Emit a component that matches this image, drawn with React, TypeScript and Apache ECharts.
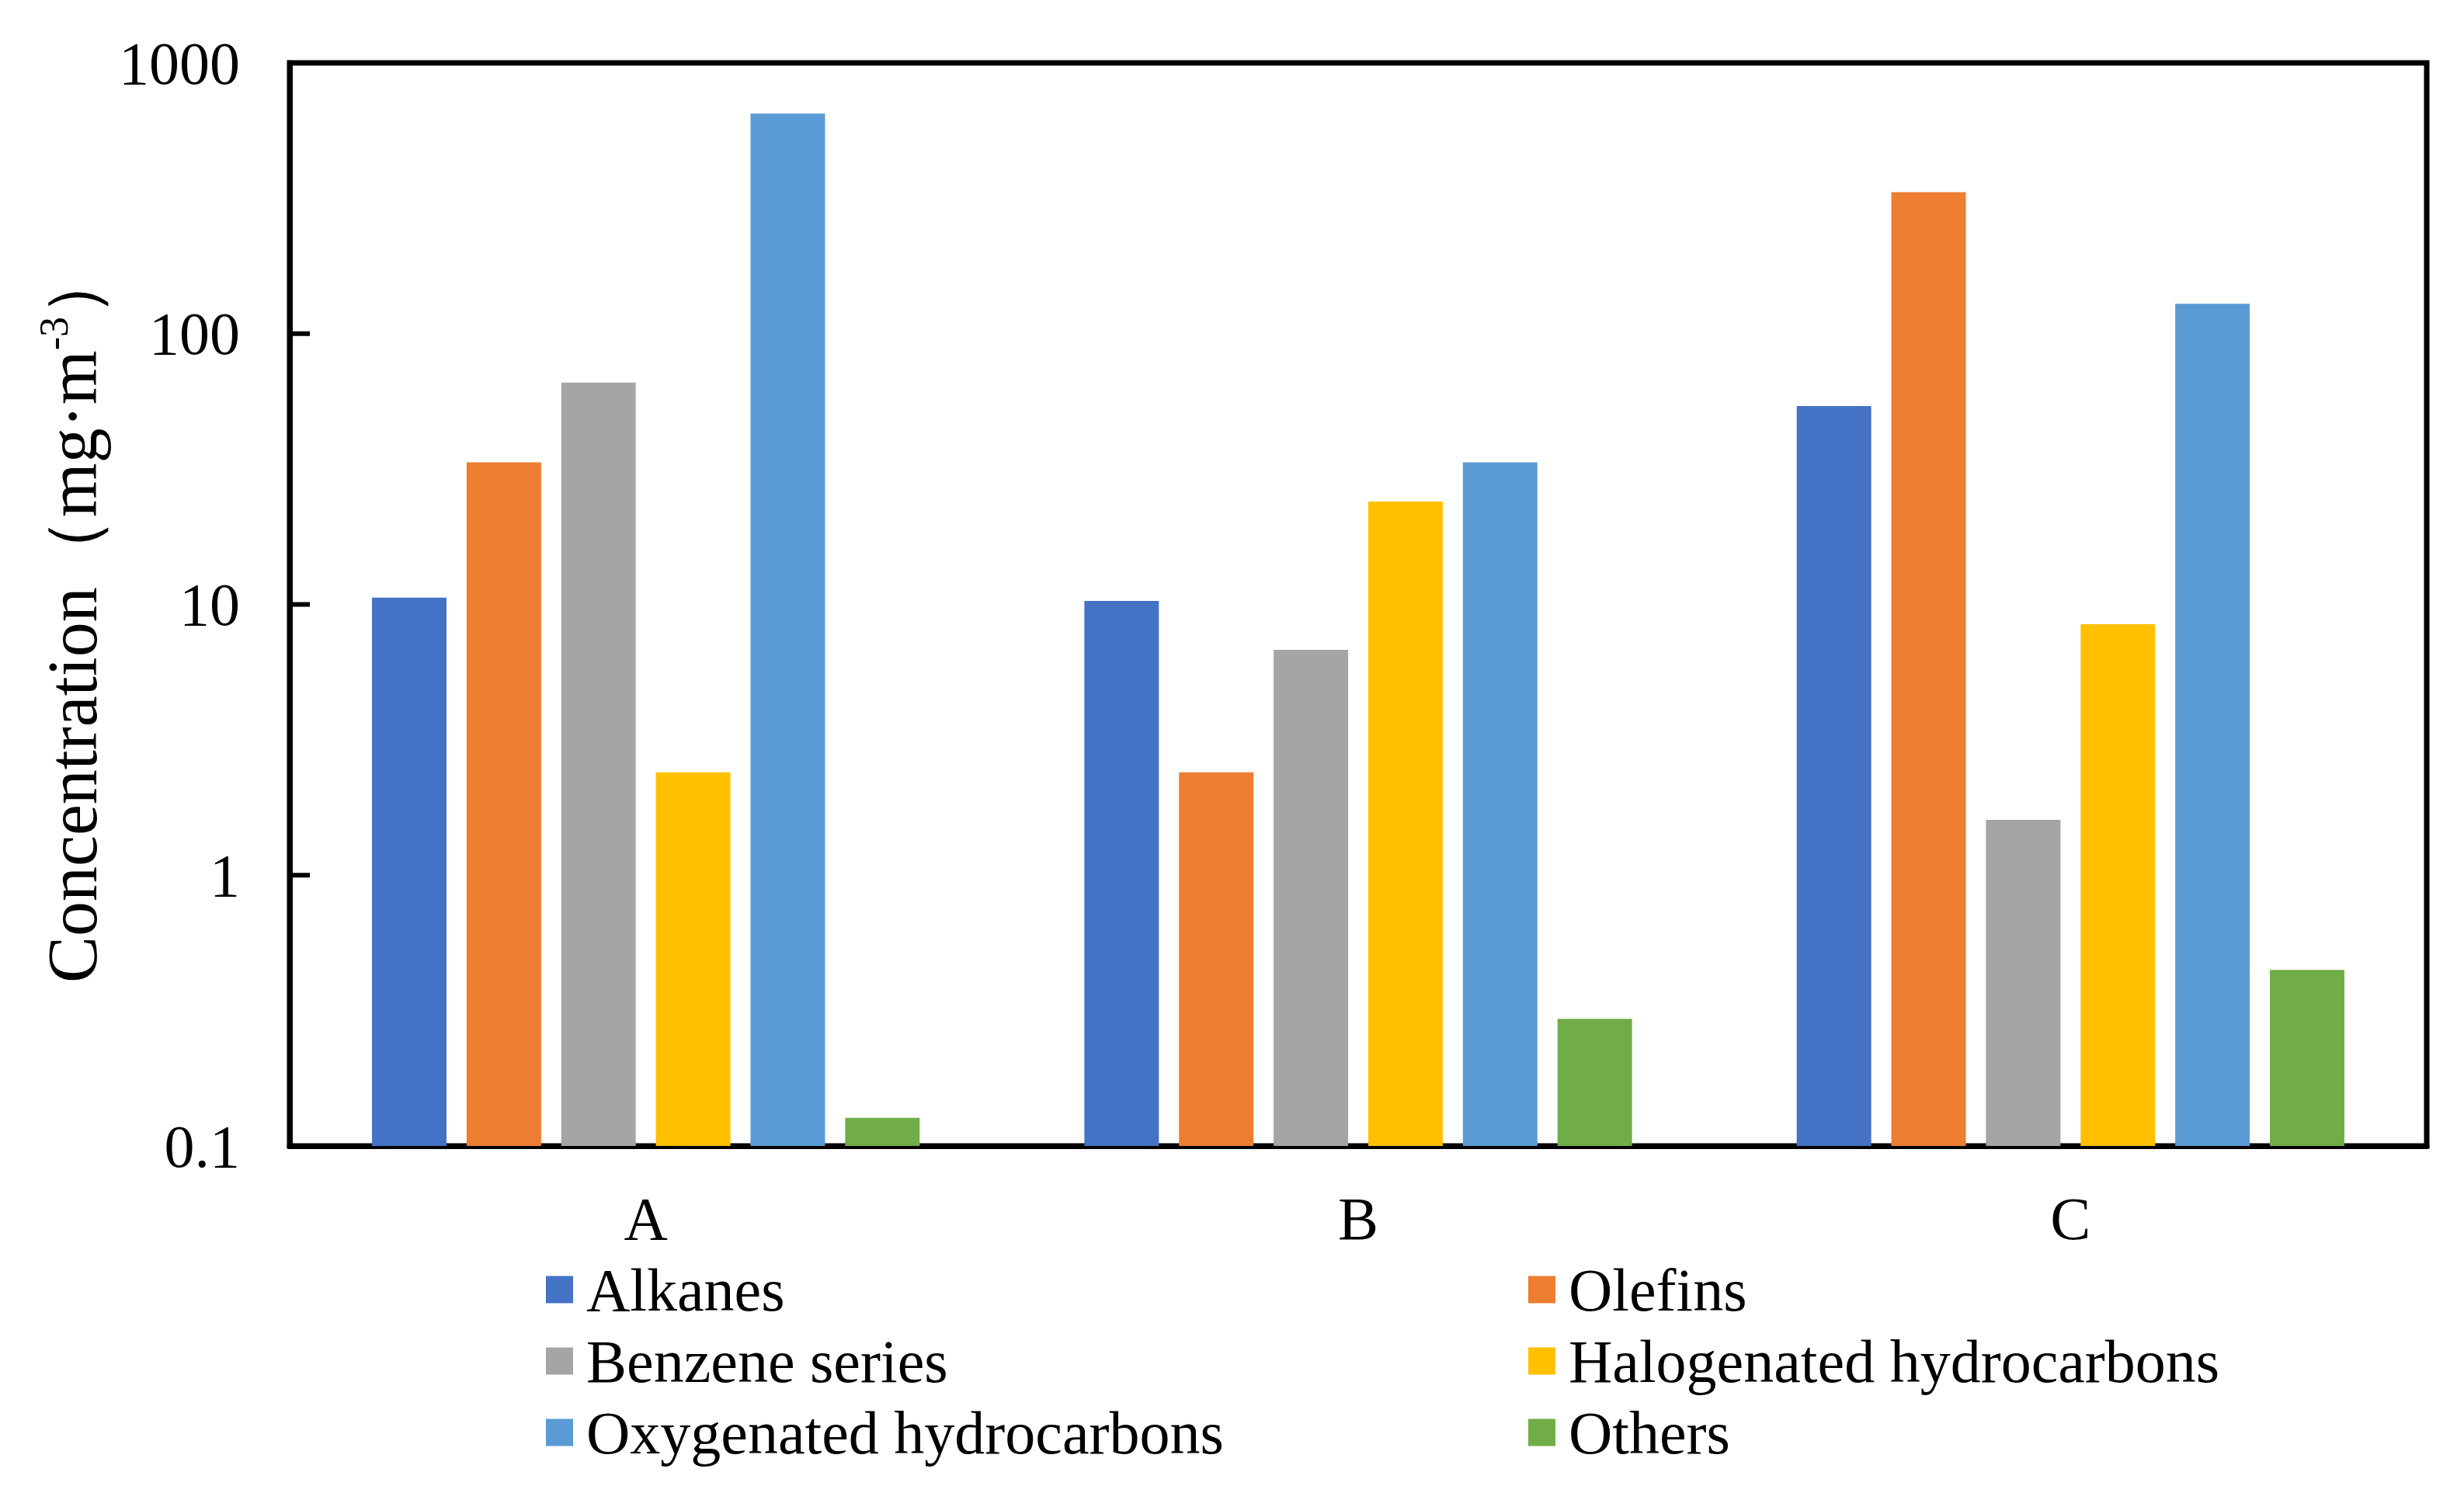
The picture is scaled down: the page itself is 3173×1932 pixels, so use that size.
import React, { useEffect, useRef } from "react";
import * as echarts from "echarts";

const categories = ["A", "B", "C"];
const seriesNames = [
  "Alkanes",
  "Olefins",
  "Benzene series",
  "Halogenated hydrocarbons",
  "Oxygenated hydrocarbons",
  "Others",
];
const alkanes = [10.6, 10.3, 54];
const olefins = [33.5, 2.4, 333];
const benzene = [66, 6.8, 1.6];
const halogenated = [2.4, 24, 8.45];
const oxygenated = [650, 33.5, 129];
const others = [0.127, 0.295, 0.447];
const seriesValues = [alkanes, olefins, benzene, halogenated, oxygenated, others];
const colors = ["#4472C4", "#ED7D31", "#A5A5A5", "#FFC000", "#5B9BD5", "#70AD47"];
const yTickValues = [0.1, 1, 10, 100, 1000];
const yTickLabels = ["0.1", "1", "10", "100", "1000"];
const AXIS_MIN = 0.1;
const AXIS_MAX = 1000;

const FONT = '"Liberation Serif", "Times New Roman", serif';

export default function App() {
  const ref = useRef<HTMLDivElement>(null);
  useEffect(() => {
    if (!ref.current) return;
    const chart = echarts.init(ref.current, undefined, { renderer: "svg" });
    const legendText = {
      fontFamily: FONT,
      fontSize: 78,
      color: "#000",
      lineHeight: 80,
      padding: [0, 0, 0, 12],
    };
    const series: any[] = [];
    seriesNames.forEach((name, i) => {
      // invisible base so each bar rises from the axis minimum on the log axis
      series.push({
        name: "_base" + i,
        type: "bar",
        stack: "s" + i,
        data: categories.map(() => AXIS_MIN),
        barWidth: "10.46%",
        barGap: "27%",
        itemStyle: { color: "rgba(0,0,0,0)" },
        silent: true,
      });
      series.push({
        name,
        type: "bar",
        stack: "s" + i,
        data: seriesValues[i].map((v) => v - AXIS_MIN),
        barWidth: "10.46%",
        barGap: "27%",
        itemStyle: { color: colors[i] },
      });
    });
    // inward decade ticks on the y axis, placed through the log scale
    series.push({
      name: "_ticks",
      type: "custom",
      silent: true,
      z: 5,
      data: yTickValues.map((v) => [0, v]),
      renderItem: (params: any, api: any) => {
        const y = api.coord([0, api.value(1)])[1];
        const x = params.coordSys.x;
        return {
          type: "line",
          shape: { x1: x, y1: y, x2: x + 26, y2: y },
          style: { stroke: "#000", lineWidth: 6 },
        };
      },
    });
    chart.setOption({
      animation: false,
      backgroundColor: "#fff",
      grid: {
        left: 373,
        right: 48,
        top: 81,
        bottom: 456,
        show: true,
        borderColor: "#000",
        borderWidth: 7,
        containLabel: false,
      },
      legend: [
        {
          orient: "vertical",
          left: 698,
          top: 1616,
          itemWidth: 35,
          itemHeight: 35,
          itemGap: 12,
          icon: "rect",
          data: [seriesNames[0], seriesNames[2], seriesNames[4]],
          textStyle: legendText,
        },
        {
          orient: "vertical",
          left: 1963,
          top: 1616,
          itemWidth: 35,
          itemHeight: 35,
          itemGap: 12,
          icon: "rect",
          data: [seriesNames[1], seriesNames[3], seriesNames[5]],
          textStyle: legendText,
        },
      ],
      xAxis: {
        type: "category",
        data: categories,
        axisLine: { show: true, onZero: false, lineStyle: { color: "#000", width: 7 } },
        axisTick: { show: false },
        axisLabel: {
          fontFamily: FONT,
          fontSize: 78,
          color: "#000",
          margin: 54,
        },
      },
      yAxis: {
        type: "log",
        logBase: 10,
        min: AXIS_MIN,
        max: AXIS_MAX,
        axisLine: { show: true, lineStyle: { color: "#000", width: 7 } },
        axisTick: { show: false },
        splitLine: { show: false },
        axisLabel: {
          fontFamily: FONT,
          fontSize: 78,
          color: "#000",
          margin: 64,
          formatter: (v: number) => {
            const e = Math.round(Math.log10(v)) + 1;
            return yTickLabels[e] ?? String(v);
          },
        },
      },
      graphic: [
        {
          type: "text",
          x: 93,
          y: 792,
          rotation: Math.PI / 2,
          style: {
            text: "Concentration（mg·m{sup|-3}）",
            fontFamily: FONT,
            fontSize: 90,
            fill: "#000",
            align: "center",
            verticalAlign: "middle",
            rich: {
              sup: {
                fontFamily: FONT,
                fontSize: 52,
                fill: "#000",
                verticalAlign: "top",
                lineHeight: 100,
              },
            },
          },
        },
      ],
      series,
    });
    return () => chart.dispose();
  }, []);
  return (
    <div
      ref={ref}
      style={{ position: "fixed", left: 0, top: 0, width: 3173, height: 1932, background: "#fff" }}
    />
  );
}
